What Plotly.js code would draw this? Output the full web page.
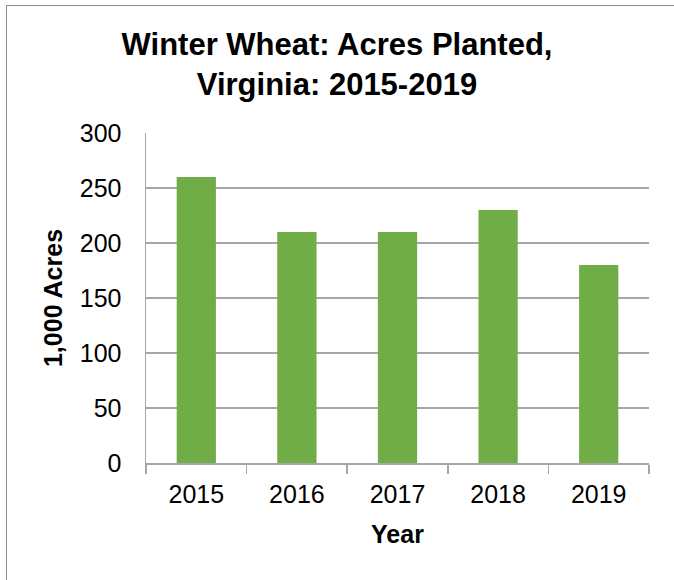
<!DOCTYPE html>
<html>
<head>
<meta charset="utf-8">
<script src="https://cdn.plot.ly/plotly-3.0.1.min.js"></script>
<style>
html,body{margin:0;padding:0;background:#fff;}
#chart{position:absolute;left:0;top:0;width:674px;height:580px;}
#frame{position:absolute;left:6px;top:5px;width:700px;height:600px;border-top:1px solid #8c8c8c;border-left:1px solid #8c8c8c;pointer-events:none;}
</style>
</head>
<body>
<div id="chart"></div>
<div id="frame"></div>
<script>
const years = ['2015', '2016', '2017', '2018', '2019'];
const acres = [260, 210, 210, 230, 180];
const yTicks = [0, 50, 100, 150, 200, 250, 300];

const font = 'Liberation Sans, Arial, sans-serif';

Plotly.newPlot('chart', [{
  type: 'bar',
  x: years,
  y: acres,
  marker: {color: '#70AD47'},
  hoverinfo: 'x+y'
}], {
  width: 674,
  height: 580,
  margin: {l: 146, r: 25, t: 133, b: 117},
  paper_bgcolor: '#ffffff',
  plot_bgcolor: '#ffffff',
  bargap: 0.61,
  showlegend: false,
  font: {family: font, color: '#000000', size: 25},
  title: {
    text: 'Winter Wheat: Acres Planted,<br>Virginia: 2015-2019',
    font: {family: font, size: 31, color: '#000000', weight: 'bold'},
    x: 0.5, xanchor: 'center',
    yref: 'container', y: 0.905, yanchor: 'middle'
  },
  xaxis: {
    type: 'category',
    tickson: 'boundaries',
    ticks: 'outside',
    ticklen: 9,
    tickcolor: '#a6a6a6',
    tickwidth: 1.5,
    showline: true,
    linecolor: '#a6a6a6',
    linewidth: 1.5,
    showgrid: false,
    ticklabelstandoff: 8,
    tickfont: {family: font, size: 25, color: '#000'},
    title: {text: 'Year', font: {family: font, size: 25, color: '#000', weight: 'bold'}, standoff: 19}
  },
  yaxis: {
    range: [0, 300],
    tickvals: yTicks,
    ticktext: yTicks.map(String),
    showgrid: true,
    gridcolor: '#a6a6a6',
    gridwidth: 1.5,
    zeroline: false,
    showline: true,
    linecolor: '#a6a6a6',
    linewidth: 1.5,
    ticks: '',
    ticklabelstandoff: 18,
    tickfont: {family: font, size: 25, color: '#000'},
    title: {text: '1,000 Acres', font: {family: font, size: 25, color: '#000', weight: 'bold'}, standoff: 10}
  }
}, {displayModeBar: false, staticPlot: true});
</script>
</body>
</html>
